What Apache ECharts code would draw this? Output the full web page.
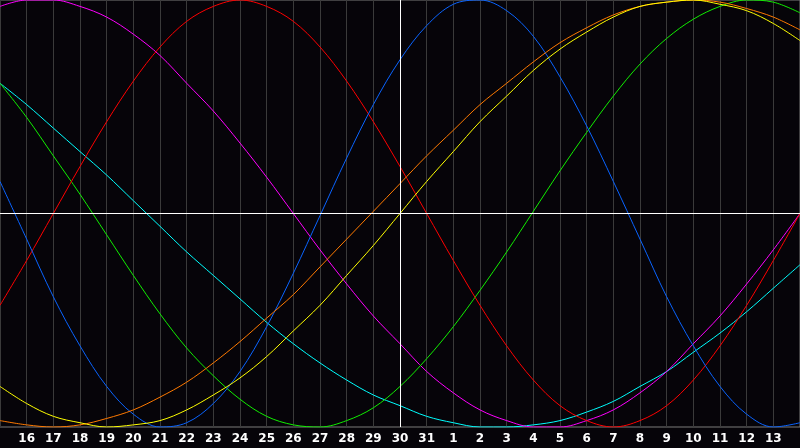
<!DOCTYPE html>
<html>
<head>
<meta charset="utf-8">
<script src="https://cdn.jsdelivr.net/npm/echarts@6/dist/echarts.min.js"></script>
<style>
html,body{margin:0;padding:0;background:#060409;}
#chart{width:800px;height:448px;}
</style>
</head>
<body>
<div id="chart"></div>
<script>
// day labels, one per day; 30 is "today" in the middle
var days=['15','16','17','18','19','20','21','22','23','24','25','26','27','28','29','30','31',
	'1','2','3','4','5','6','7','8','9','10','11','12','13','14'];

// curve values, one per day
var red=[-0.43,-0.22,0,0.22,0.43,0.62,0.78,0.9,0.97,1,0.97,0.9,0.78,0.62,0.43,0.22,0,-0.22,-0.43,-0.62,-0.78,-0.9,-0.97,-1,-0.97,-0.9,-0.78,-0.62,-0.43,-0.22,0];
var blue=[0.15,-0.12,-0.39,-0.62,-0.81,-0.94,-1,-0.98,-0.89,-0.74,-0.53,-0.28,-0.01,0.26,0.51,0.72,0.88,0.98,1,0.95,0.83,0.64,0.41,0.15,-0.12,-0.39,-0.62,-0.81,-0.94,-1,-0.98];
var green=[0.61,0.45,0.27,0.09,-0.1,-0.29,-0.47,-0.63,-0.76,-0.87,-0.95,-0.99,-1,-0.97,-0.91,-0.81,-0.68,-0.53,-0.36,-0.18,0.01,0.2,0.38,0.55,0.7,0.82,0.91,0.97,1,0.99,0.94];
var magenta=[0.97,1,1,0.97,0.92,0.84,0.74,0.61,0.48,0.33,0.17,0,-0.17,-0.33,-0.48,-0.61,-0.74,-0.84,-0.92,-0.97,-1,-1,-0.97,-0.92,-0.84,-0.74,-0.61,-0.48,-0.33,-0.17,0];
var cyan=[0.61,0.51,0.4,0.29,0.18,0.06,-0.06,-0.18,-0.29,-0.4,-0.51,-0.61,-0.7,-0.78,-0.85,-0.9,-0.95,-0.98,-1,-1,-0.99,-0.97,-0.93,-0.88,-0.81,-0.74,-0.65,-0.56,-0.46,-0.35,-0.24];
var yellow=[-0.81,-0.89,-0.95,-0.98,-1,-0.99,-0.97,-0.92,-0.85,-0.77,-0.67,-0.55,-0.43,-0.29,-0.15,0,0.15,0.29,0.43,0.55,0.67,0.77,0.85,0.92,0.97,0.99,1,0.98,0.95,0.89,0.81];
var orange=[-0.97,-0.99,-1,-0.99,-0.96,-0.92,-0.86,-0.79,-0.7,-0.6,-0.49,-0.38,-0.25,-0.12,0.01,0.14,0.27,0.39,0.51,0.61,0.71,0.8,0.87,0.93,0.97,0.99,1,0.99,0.96,0.92,0.86];

var colors={red:'#ff0000',blue:'#0a64ff',green:'#11ee00',magenta:'#ff00ff',cyan:'#00ffff',yellow:'#ffff00',orange:'#ff7a00'};

function curve(data,color){
	return {
		type:'line',
		data:data,
		smooth:0.35,
		symbol:'none',
		silent:true,
		lineStyle:{color:color,width:1}
	};
}

var myChart=echarts.init(document.getElementById('chart'));
var series=[
	curve(cyan,colors.cyan),
	curve(magenta,colors.magenta),
	curve(green,colors.green),
	curve(red,colors.red),
	curve(blue,colors.blue),
	curve(orange,colors.orange),
	curve(yellow,colors.yellow)
];
// today cross
series[0].markLine={
	silent:true,
	symbol:'none',
	label:{show:false},
	lineStyle:{color:'#ffffff',width:1,type:'solid'},
	data:[{xAxis:'30'},{yAxis:0}]
};

var option={
	animation:false,
	backgroundColor:'#060409',
	grid:{
		left:0,
		right:0,
		top:0,
		bottom:21,
		containLabel:false,
		outerBoundsMode:'none',
		show:true,
		borderColor:'#7a7a7a',
		borderWidth:1
	},
	xAxis:{
		type:'category',
		data:days,
		boundaryGap:false,
		axisLine:{show:true,lineStyle:{color:'#7a7a7a'}},
		axisTick:{show:false},
		axisLabel:{
			interval:0,
			color:'#ffffff',
			fontFamily:'DejaVu Sans',
			fontWeight:'bold',
			fontSize:12,
			margin:6,
			formatter:function(v,i){
				// edge days are cut off in the original
				return (i===0||i===days.length-1)?'':v;
			}
		},
		splitLine:{show:true,interval:0,lineStyle:{color:'#3a3a3a',width:1}}
	},
	yAxis:{
		type:'value',
		min:-1,
		max:1,
		show:false,
		splitLine:{show:false}
	},
	series:series
};
myChart.setOption(option);
</script>
</body>
</html>
